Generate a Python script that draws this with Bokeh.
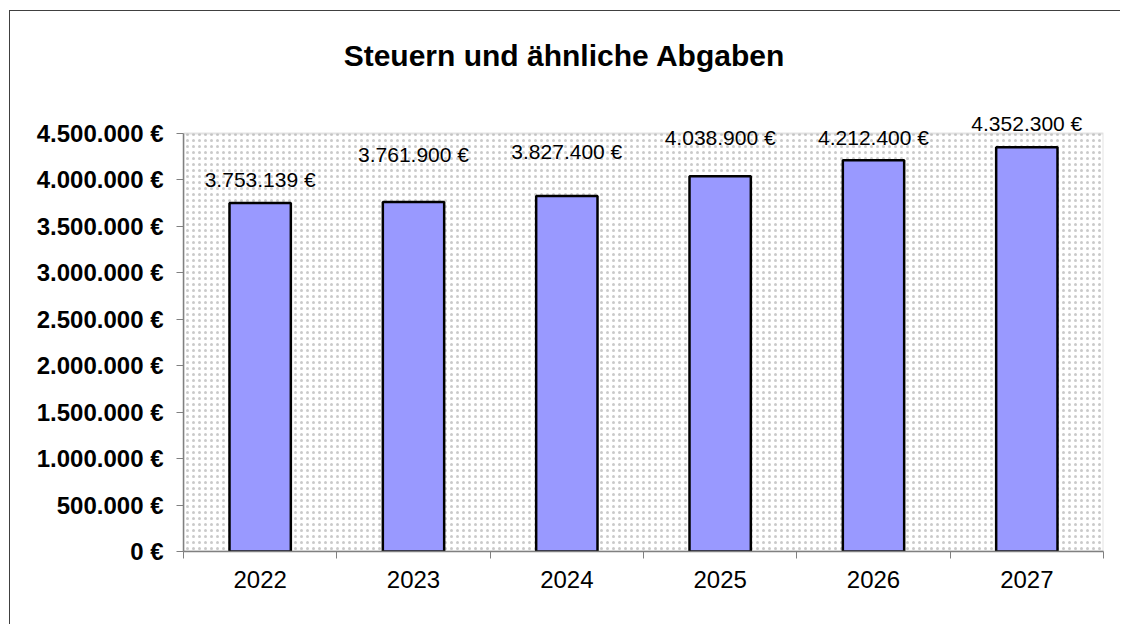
from bokeh.plotting import figure
from bokeh.models import (ColumnDataSource, LabelSet, Label, FixedTicker, Range1d,
                          BoxAnnotation, LinearAxis)
from bokeh.embed import file_html
from bokeh.resources import INLINE
from bokeh.core.properties import value

# ---- data ----
years = ["2022", "2023", "2024", "2025", "2026", "2027"]
amounts = [3753139, 3761900, 3827400, 4038900, 4212400, 4352300]
y_ticks = [0, 500000, 1000000, 1500000, 2000000, 2500000, 3000000, 3500000, 4000000, 4500000]
title_text = "Steuern und ähnliche Abgaben"

# label vertical offsets (px above bar top), styling only
label_offsets = [23, 48, 44, 39, 23, 23.5]

# layout (pixels)
PLOT_PX = 418      # height of the value area (0 .. 4.5M)
FRAME_PX = 540     # frame height incl. white area above value area
BOTTOM_PX = 74


def eur(v):
    return f"{int(v):,}".replace(",", ".") + " €"


xs = [i + 0.5 for i in range(len(years))]
src = ColumnDataSource(dict(
    x=xs,
    y=amounts,
    label=[eur(v) for v in amounts],
    off=label_offsets,
))

y_max = y_ticks[-1]
p = figure(width=1111, height=FRAME_PX + BOTTOM_PX, output_backend="svg", toolbar_location=None,
           x_range=Range1d(0, len(years)), y_range=Range1d(0, y_max * FRAME_PX / PLOT_PX),
           x_axis_type=None, y_axis_type=None,
           min_border_left=173, min_border_right=18, min_border_top=0,
           min_border_bottom=BOTTOM_PX)
p.styles = {"border-left": "1px solid #404040", "border-top": "1px solid #404040",
            "margin-left": "9px", "margin-top": "10px"}
p.background_fill_color = "white"
p.border_fill_color = "white"
p.outline_line_color = None

# dotted plot area with gray border
bg = BoxAnnotation(top=y_max, fill_color="white", fill_alpha=1.0, hatch_pattern=".",
                   hatch_color="#cacaca", hatch_scale=6, hatch_weight=1.1,
                   line_color="#a0a0a0", line_width=2, level="underlay")

# axes
yaxis = LinearAxis(ticker=FixedTicker(ticks=y_ticks),
                   major_label_overrides={t: eur(t) for t in y_ticks})
yaxis.bounds = (0, y_max)
yaxis.axis_line_color = "#808080"
yaxis.axis_line_width = 1.5
yaxis.major_tick_line_color = "#808080"
yaxis.major_tick_out = 7
yaxis.major_tick_in = 0
yaxis.minor_tick_line_color = None
yaxis.major_label_standoff = 13
yaxis.major_label_text_font = "Liberation Sans"
yaxis.major_label_text_font_style = "bold"
yaxis.major_label_text_font_size = "24px"
yaxis.major_label_text_color = "black"
p.add_layout(yaxis, "left")

xaxis = LinearAxis(ticker=FixedTicker(ticks=xs, minor_ticks=list(range(len(years) + 1))),
                   major_label_overrides={x: y for x, y in zip(xs, years)})
xaxis.axis_line_color = "#808080"
xaxis.axis_line_width = 1.5
xaxis.major_tick_line_color = None
xaxis.minor_tick_line_color = "#808080"
xaxis.minor_tick_out = 7
xaxis.minor_tick_in = 0
xaxis.major_label_standoff = 12
xaxis.major_label_text_font = "Liberation Sans"
xaxis.major_label_text_font_size = "24px"
xaxis.major_label_text_color = "black"
p.add_layout(xaxis, "below")

p.xgrid.visible = False
p.ygrid.ticker = FixedTicker(ticks=y_ticks)
p.ygrid.grid_line_color = "black"
p.ygrid.grid_line_width = 1
p.ygrid.level = "glyph"
p.center.insert(0, bg)

p.vbar(x="x", top="y", width=0.4, bottom=0, source=src,
       fill_color="#9999FF", line_color="black", line_width=2.5)

labels = LabelSet(x="x", y="y", text="label", y_offset="off", source=src,
                  text_align="center", text_baseline="middle",
                  text_font=value("Liberation Sans"), text_font_size="21px",
                  text_color="black")
p.add_layout(labels)

title = Label(x=len(years) / 2, y=y_max, x_offset=-79, y_offset=78.5,
              text=title_text, text_align="center", text_baseline="middle",
              text_font="Liberation Sans", text_font_style="bold",
              text_font_size="30px", text_color="black")
p.add_layout(title)

open("out.html", "w").write(file_html(p, INLINE))
